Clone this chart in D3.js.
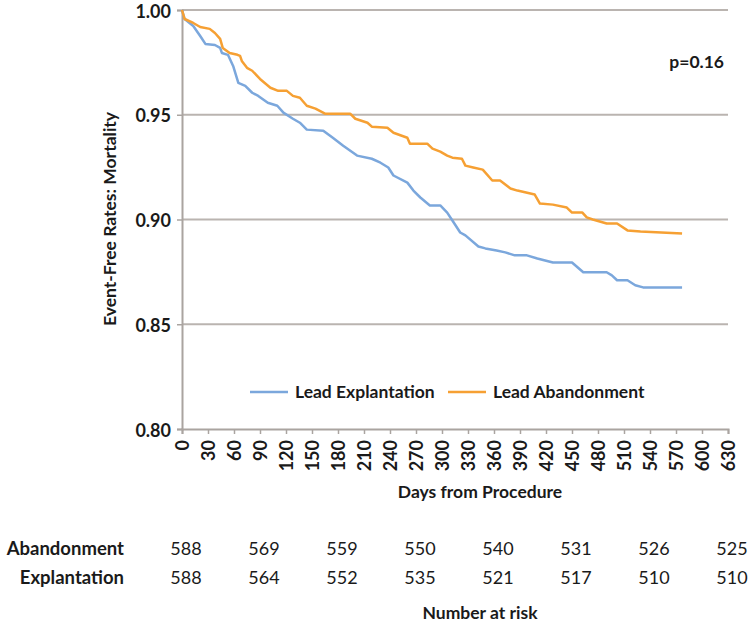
<!DOCTYPE html>
<html>
<head>
    <meta charset="utf-8">
    <title>Event-Free Rates: Mortality</title>
    <script src="https://d3js.org/d3.v7.min.js"></script>
    <style>
        body { margin: 0; background: #fff; }
        svg text { font-family: Lato, "Open Sans", sans-serif; fill: #1a1a1a; }
    </style>
</head>
<body>
    <div id="chart"></div>

    <script type="text/javascript">
        // Kaplan-Meier estimates: [days, event-free rate]
        var abandonment = [
            [0, 1.000], [3, 0.9957], [13, 0.9938], [21, 0.9919], [32, 0.9910], [38, 0.9890],
            [44, 0.9862], [47, 0.9819], [55, 0.9795], [64, 0.9786], [67, 0.9781], [69, 0.9757],
            [75, 0.9724], [81, 0.9710], [90, 0.9671], [102, 0.9629], [111, 0.9614], [121, 0.9614],
            [128, 0.9590], [136, 0.9581], [144, 0.9543], [154, 0.9529], [165, 0.9505], [194, 0.9505],
            [200, 0.9481], [214, 0.9462], [219, 0.9443], [237, 0.9438], [244, 0.9414], [260, 0.9390],
            [263, 0.9362], [283, 0.9362], [289, 0.9338], [298, 0.9324], [306, 0.9305], [312, 0.9295],
            [323, 0.9290], [327, 0.9257], [336, 0.9248], [347, 0.9238], [358, 0.9186], [367, 0.9186],
            [379, 0.9148], [387, 0.9138], [407, 0.9119], [413, 0.9076], [428, 0.9071], [444, 0.9057],
            [450, 0.9033], [462, 0.9033], [467, 0.9010], [474, 0.9000], [490, 0.8981], [502, 0.8981],
            [514, 0.8948], [529, 0.8943], [577, 0.8933]
        ];
        var explantation = [
            [0, 1.000], [3, 0.9957], [13, 0.9924], [21, 0.9876], [27, 0.9838], [38, 0.9833],
            [44, 0.9819], [46, 0.9795], [53, 0.9786], [59, 0.9733], [65, 0.9652], [73, 0.9638],
            [81, 0.9605], [88, 0.9590], [99, 0.9557], [110, 0.9543], [117, 0.9510], [128, 0.9481],
            [136, 0.9462], [144, 0.9429], [163, 0.9424], [174, 0.9390], [186, 0.9352], [202, 0.9305],
            [219, 0.9290], [229, 0.9271], [238, 0.9248], [244, 0.9210], [260, 0.9176], [267, 0.9138],
            [275, 0.9105], [286, 0.9067], [298, 0.9067], [306, 0.9033], [312, 0.8995], [321, 0.8938],
            [327, 0.8924], [342, 0.8871], [350, 0.8862], [363, 0.8852], [373, 0.8843], [384, 0.8829],
            [398, 0.8829], [410, 0.8814], [428, 0.8795], [450, 0.8795], [463, 0.8748], [490, 0.8748],
            [496, 0.8733], [502, 0.8710], [514, 0.8710], [523, 0.8686], [532, 0.8676], [577, 0.8676]
        ];

        var yTicks = [0.80, 0.85, 0.90, 0.95, 1.00];
        var xTicks = d3.range(0, 631, 30);

        // number at risk table
        var riskDays = [0, 90, 180, 270, 360, 450, 540, 630];
        var riskAbandonment = [588, 569, 559, 550, 540, 531, 526, 525];
        var riskExplantation = [588, 564, 552, 535, 521, 517, 510, 510];

        var series = [
            { name: "Lead Explantation", label: "Explantation", color: "#7ba7dc", values: explantation, risk: riskExplantation },
            { name: "Lead Abandonment", label: "Abandonment", color: "#f6a033", values: abandonment, risk: riskAbandonment }
        ];

        var width = 750, height = 628;
        var plotLeft = 182, plotRight = 728, plotTop = 10, plotBottom = 429;

        var svg = d3.select("#chart").append("svg")
            .attr("width", width)
            .attr("height", height);

        var x = d3.scaleLinear().domain([0, 630]).range([plotLeft, plotRight]);
        var y = d3.scaleLinear().domain([0.80, 1.00]).range([plotBottom, plotTop]);

        // horizontal grid lines
        svg.append("g")
            .selectAll("line")
            .data(yTicks.slice(1))
            .enter()
            .append("line")
            .attr("x1", plotLeft)
            .attr("x2", plotRight)
            .attr("y1", function(d) { return y(d); })
            .attr("y2", function(d) { return y(d); })
            .style("stroke", "#bab4b0")
            .style("stroke-width", 2);

        // y axis
        var yAxis = svg.append("g")
            .attr("transform", "translate(" + plotLeft + ",0)")
            .call(d3.axisLeft(y).tickValues(yTicks).tickFormat(d3.format(".2f")).tickSize(5).tickPadding(6));

        // x axis
        var xAxis = svg.append("g")
            .attr("transform", "translate(0," + plotBottom + ")")
            .call(d3.axisBottom(x).tickValues(xTicks).tickSize(5).tickPadding(6));

        [yAxis, xAxis].forEach(function(a) {
            a.select(".domain").style("stroke", "#aaa4a0").style("stroke-width", 2);
            a.selectAll(".tick line").style("stroke", "#aaa4a0").style("stroke-width", 1.5);
            a.selectAll("text")
                .style("font-family", "Lato, sans-serif")
                .style("font-size", "18px")
                .style("font-weight", "bold")
                .style("fill", "#1a1a1a");
        });

        yAxis.selectAll(".tick text").attr("dy", "0.4em");

        xAxis.selectAll(".tick text")
            .attr("transform", "rotate(-90)")
            .attr("x", -11)
            .attr("y", 0)
            .attr("dy", "0.35em")
            .style("text-anchor", "end");

        // curves
        var line = d3.line()
            .x(function(d) { return x(d[0]); })
            .y(function(d) { return y(d[1]); });

        svg.append("g")
            .selectAll("path")
            .data(series)
            .enter()
            .append("path")
            .attr("d", function(d) { return line(d.values); })
            .style("fill", "none")
            .style("stroke", function(d) { return d.color; })
            .style("stroke-width", 2.5)
            .style("stroke-linejoin", "round");

        // axis titles
        svg.append("text")
            .attr("transform", "translate(116,219) rotate(-90)")
            .style("text-anchor", "middle")
            .style("font-size", "17.5px")
            .style("font-weight", "bold")
            .text("Event-Free Rates: Mortality");

        svg.append("text")
            .attr("x", 480)
            .attr("y", 498)
            .style("text-anchor", "middle")
            .style("font-size", "17.5px")
            .style("font-weight", "bold")
            .text("Days from Procedure");

        svg.append("text")
            .attr("x", 724)
            .attr("y", 68)
            .style("text-anchor", "end")
            .style("font-size", "17.5px")
            .style("font-weight", "bold")
            .text("p=0.16");

        // legend
        var legendX = [250, 448];
        var legend = svg.append("g")
            .selectAll("g")
            .data(series)
            .enter()
            .append("g")
            .attr("transform", function(d, i) { return "translate(" + legendX[i] + ",392)"; });

        legend.append("line")
            .attr("x1", 0)
            .attr("x2", 38)
            .style("stroke", function(d) { return d.color; })
            .style("stroke-width", 2.5);

        legend.append("text")
            .attr("x", 45)
            .attr("dy", "0.35em")
            .style("font-size", "17.5px")
            .style("font-weight", "bold")
            .text(function(d) { return d.name; });

        // number at risk
        var riskRows = [series[1], series[0]];
        var rowY = [549, 578];

        var rows = svg.append("g")
            .selectAll("g")
            .data(riskRows)
            .enter()
            .append("g")
            .attr("transform", function(d, i) { return "translate(0," + rowY[i] + ")"; });

        rows.append("text")
            .attr("x", 124)
            .attr("dy", "0.35em")
            .style("text-anchor", "end")
            .style("font-size", "18.5px")
            .style("font-weight", "bold")
            .text(function(d) { return d.label; });

        rows.selectAll(".risk")
            .data(function(d) { return d.risk; })
            .enter()
            .append("text")
            .attr("class", "risk")
            .attr("x", function(d, i) { return x(riskDays[i]) + 4; })
            .attr("dy", "0.35em")
            .style("text-anchor", "middle")
            .style("font-size", "18px")
            .text(function(d) { return d; });

        svg.append("text")
            .attr("x", 480)
            .attr("y", 619)
            .style("text-anchor", "middle")
            .style("font-size", "17.5px")
            .style("font-weight", "bold")
            .text("Number at risk");
    </script>
</body>
</html>
